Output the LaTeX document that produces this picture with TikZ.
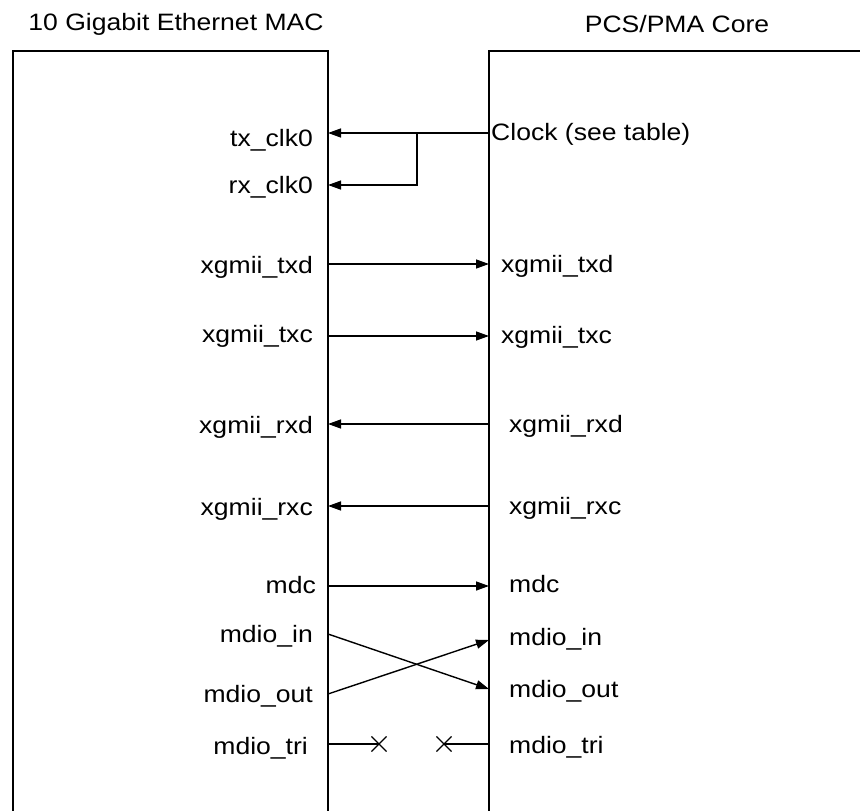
\documentclass[tikz,border=0pt]{standalone}
\usepackage{fontspec}
\setmainfont[FakeStretch=1.12]{Liberation Sans}
\usetikzlibrary{arrows.meta,shapes.misc}
\tikzset{
  blockline/.style={line width=2.6pt},
  sig/.style={line width=1.4pt},
  sigtip/.style={sig,-{Triangle[length=13pt,width=9pt]}},
  lbl/.style={inner sep=0pt,font=\fontsize{23.7}{28}\selectfont},
  tri/.style={cross out,draw,line width=1.1pt,minimum size=14pt,inner sep=0pt}
}
\begin{document}
\begin{tikzpicture}[x=1pt,y=-1pt]
        \useasboundingbox (0,0) rectangle (860,811);
        \clip (0,0) rectangle (860,811);
        % blocks
        \draw[blockline] (13,830) |- (328,51) -- (328,830);
        \draw[blockline] (489,830) |- (880,51);
        \node[lbl] (mac) at (176,24) {10 Gigabit Ethernet MAC};
        \node[lbl] (pcs) at (677,24) {PCS/PMA Core};
        % left labels
        \node[lbl,anchor=base east] (txclk) at (313,146) {tx\_clk0};
        \node[lbl,anchor=base east] (rxclk) at (313,193) {rx\_clk0};
        \node[lbl,anchor=base east] (txdL) at (313,273) {xgmii\_txd};
        \node[lbl,anchor=base east] (txcL) at (313,342) {xgmii\_txc};
        \node[lbl,anchor=base east] (rxdL) at (313,433) {xgmii\_rxd};
        \node[lbl,anchor=base east] (rxcL) at (313,515) {xgmii\_rxc};
        \node[lbl,anchor=base east] (mdcL) at (316,593) {mdc};
        \node[lbl,anchor=base east] (mdinL) at (313,642) {mdio\_in};
        \node[lbl,anchor=base east] (mdoutL) at (313,702) {mdio\_out};
        \node[lbl,anchor=base east] (mdtriL) at (308,754) {mdio\_tri};
        % right labels
        \node[lbl,anchor=base west] (clk) at (491,140) {Clock (see table)};
        \node[lbl,anchor=base west] (txdR) at (501,272) {xgmii\_txd};
        \node[lbl,anchor=base west] (txcR) at (501,343) {xgmii\_txc};
        \node[lbl,anchor=base west] (rxdR) at (509,432) {xgmii\_rxd};
        \node[lbl,anchor=base west] (rxcR) at (509,514) {xgmii\_rxc};
        \node[lbl,anchor=base west] (mdcR) at (509,592) {mdc};
        \node[lbl,anchor=base west] (mdinR) at (509,645) {mdio\_in};
        \node[lbl,anchor=base west] (mdoutR) at (509,697) {mdio\_out};
        \node[lbl,anchor=base west] (mdtriR) at (509,753) {mdio\_tri};
        % ports on the block edges
        \coordinate (pclk) at (489,133);
        \coordinate (ptxclk) at (328,133);\coordinate (prxclk) at (328,185);
        \coordinate (ptxdL) at (328,264);\coordinate (ptxdR) at (489,264);
        \coordinate (ptxcL) at (328,336);\coordinate (ptxcR) at (489,336);
        \coordinate (prxdL) at (328,424);\coordinate (prxdR) at (489,424);
        \coordinate (prxcL) at (328,506);\coordinate (prxcR) at (489,506);
        \coordinate (pmdcL) at (328,586);\coordinate (pmdcR) at (489,586);
        \coordinate (pinL) at (328,634);\coordinate (pinR) at (489,640);
        \coordinate (poutL) at (328,694);\coordinate (poutR) at (489,689);
        \coordinate (ptriL) at (328,744);\coordinate (ptriR) at (489,744);
        % clock
        \draw[sigtip] (pclk) -- (ptxclk);
        \draw[sigtip] (417,133) |- (prxclk);
        % data
        \draw[sigtip] (ptxdL) -- (ptxdR);
        \draw[sigtip] (ptxcL) -- (ptxcR);
        \draw[sigtip] (prxdR) -- (prxdL);
        \draw[sigtip] (prxcR) -- (prxcL);
        % management
        \draw[sigtip] (pmdcL) -- (pmdcR);
        \draw[sigtip] (pinL) -- (poutR);
        \draw[sigtip] (poutL) -- (pinR);
        \node[tri] (triL) at (379,744) {};
        \node[tri] (triR) at (444,744) {};
        \draw[sig] (ptriL) -- (triL.center);
        \draw[sig] (ptriR) -- (triR.center);
    \end{tikzpicture}
\end{document}
